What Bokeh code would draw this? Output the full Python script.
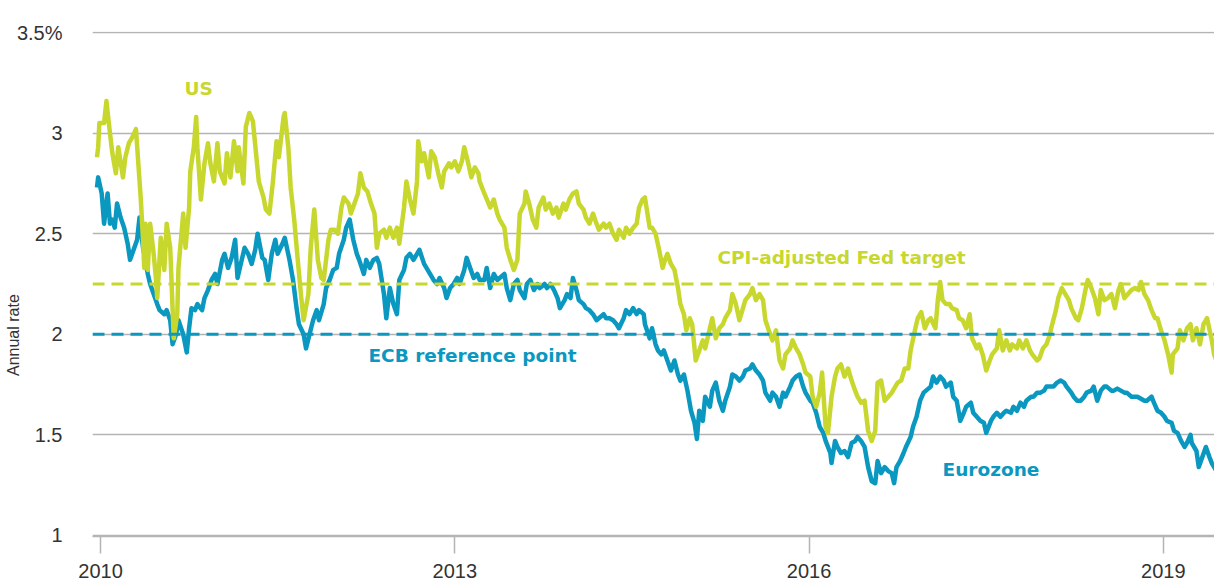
import math
from bokeh.plotting import figure
from bokeh.models import Range1d, FixedTicker, Span, Label, ColumnDataSource
from bokeh.embed import file_html
from bokeh.resources import INLINE

# ---------------- data ----------------
us_years = [
    2009.97, 2009.98, 2009.99, 2010.03, 2010.05, 2010.07, 2010.10, 2010.13, 2010.15, 2010.19,
    2010.21, 2010.24, 2010.27, 2010.30, 2010.32, 2010.34, 2010.36, 2010.37, 2010.38, 2010.40,
    2010.42, 2010.45, 2010.47, 2010.48, 2010.51, 2010.54, 2010.56, 2010.59, 2010.61, 2010.62,
    2010.65, 2010.66, 2010.70, 2010.72, 2010.75, 2010.76, 2010.79, 2010.81, 2010.82, 2010.85,
    2010.88, 2010.91, 2010.93, 2010.96, 2010.99, 2011.01, 2011.05, 2011.07, 2011.10, 2011.13,
    2011.16, 2011.17, 2011.21, 2011.23, 2011.26, 2011.29, 2011.32, 2011.34, 2011.38, 2011.40,
    2011.43, 2011.46, 2011.49, 2011.51, 2011.55, 2011.56, 2011.59, 2011.61, 2011.64, 2011.67,
    2011.70, 2011.72, 2011.76, 2011.78, 2011.81, 2011.84, 2011.87, 2011.89, 2011.93, 2011.95,
    2011.98, 2012.01, 2012.04, 2012.06, 2012.10, 2012.12, 2012.15, 2012.18, 2012.20, 2012.23,
    2012.26, 2012.29, 2012.32, 2012.34, 2012.36, 2012.40, 2012.42, 2012.45, 2012.48, 2012.51,
    2012.53, 2012.57, 2012.59, 2012.62, 2012.65, 2012.68, 2012.69, 2012.72, 2012.74, 2012.78,
    2012.80, 2012.83, 2012.86, 2012.89, 2012.91, 2012.95, 2012.97, 2013.00, 2013.03, 2013.06,
    2013.08, 2013.11, 2013.14, 2013.17, 2013.20, 2013.21, 2013.25, 2013.30, 2013.33, 2013.36,
    2013.38, 2013.42, 2013.44, 2013.47, 2013.50, 2013.53, 2013.55, 2013.59, 2013.60, 2013.63,
    2013.66, 2013.69, 2013.71, 2013.75, 2013.77, 2013.80, 2013.83, 2013.86, 2013.88, 2013.92,
    2013.94, 2013.97, 2014.00, 2014.03, 2014.05, 2014.09, 2014.11, 2014.14, 2014.17, 2014.20,
    2014.22, 2014.26, 2014.28, 2014.31, 2014.34, 2014.37, 2014.39, 2014.43, 2014.45, 2014.48,
    2014.51, 2014.54, 2014.56, 2014.59, 2014.61, 2014.65, 2014.67, 2014.70, 2014.73, 2014.76,
    2014.78, 2014.80, 2014.83, 2014.86, 2014.89, 2014.91, 2014.94, 2014.96, 2014.99, 2015.01,
    2015.04, 2015.07, 2015.10, 2015.12, 2015.16, 2015.18, 2015.21, 2015.24, 2015.27, 2015.29,
    2015.33, 2015.35, 2015.38, 2015.41, 2015.44, 2015.46, 2015.50, 2015.52, 2015.55, 2015.58,
    2015.61, 2015.63, 2015.67, 2015.69, 2015.72, 2015.75, 2015.78, 2015.80, 2015.84, 2015.86,
    2015.89, 2015.92, 2015.95, 2015.97, 2016.01, 2016.03, 2016.06, 2016.09, 2016.11, 2016.14,
    2016.16, 2016.19, 2016.22, 2016.24, 2016.27, 2016.30, 2016.33, 2016.36, 2016.39, 2016.41,
    2016.44, 2016.47, 2016.50, 2016.53, 2016.56, 2016.58, 2016.61, 2016.64, 2016.67, 2016.70,
    2016.73, 2016.75, 2016.78, 2016.81, 2016.84, 2016.86, 2016.90, 2016.92, 2016.95, 2016.98,
    2017.01, 2017.03, 2017.07, 2017.09, 2017.11, 2017.13, 2017.16, 2017.19, 2017.21, 2017.25,
    2017.27, 2017.30, 2017.33, 2017.36, 2017.38, 2017.42, 2017.44, 2017.47, 2017.50, 2017.53,
    2017.55, 2017.59, 2017.61, 2017.64, 2017.67, 2017.70, 2017.72, 2017.76, 2017.78, 2017.81,
    2017.84, 2017.87, 2017.89, 2017.93, 2017.95, 2017.98, 2018.01, 2018.04, 2018.05, 2018.09,
    2018.11, 2018.14, 2018.17, 2018.20, 2018.22, 2018.26, 2018.28, 2018.31, 2018.34, 2018.36,
    2018.39, 2018.42, 2018.45, 2018.47, 2018.50, 2018.53, 2018.56, 2018.59, 2018.62, 2018.64,
    2018.67, 2018.70, 2018.73, 2018.76, 2018.79, 2018.81, 2018.84, 2018.87, 2018.90, 2018.93,
    2018.95, 2018.98, 2019.01, 2019.04, 2019.07, 2019.08, 2019.12, 2019.14, 2019.17, 2019.20,
    2019.23, 2019.25, 2019.28, 2019.31, 2019.34, 2019.37, 2019.41, 2019.43, 2019.46,
]
us_rates = [
    2.88, 2.93, 3.05, 3.05, 3.16, 3.05, 2.90, 2.80, 2.93, 2.78,
    2.88, 2.95, 2.98, 3.02, 2.85, 2.68, 2.47, 2.33, 2.55, 2.32,
    2.55, 2.40, 2.27, 2.18, 2.48, 2.32, 2.55, 2.43, 2.13, 1.98,
    2.10, 2.33, 2.60, 2.43, 2.63, 2.81, 2.93, 3.08, 2.93, 2.67,
    2.85, 2.95, 2.85, 2.76, 2.95, 2.81, 2.75, 2.90, 2.78, 2.96,
    2.81, 2.93, 2.75, 3.03, 3.10, 3.06, 2.88, 2.76, 2.68, 2.62,
    2.60, 2.76, 2.96, 2.88, 3.08, 3.10, 2.93, 2.73, 2.57, 2.37,
    2.18, 2.07, 2.20, 2.43, 2.62, 2.37, 2.28, 2.27, 2.47, 2.52,
    2.52, 2.50, 2.63, 2.68, 2.65, 2.60, 2.65, 2.70, 2.80, 2.73,
    2.71, 2.65, 2.60, 2.43, 2.50, 2.52, 2.48, 2.53, 2.48, 2.53,
    2.45, 2.63, 2.76, 2.67, 2.60, 2.76, 2.96, 2.86, 2.90, 2.78,
    2.91, 2.88, 2.80, 2.73, 2.81, 2.85, 2.83, 2.86, 2.81, 2.86,
    2.93, 2.86, 2.78, 2.83, 2.80, 2.76, 2.70, 2.63, 2.67, 2.60,
    2.57, 2.53, 2.43, 2.37, 2.32, 2.37, 2.60, 2.65, 2.71, 2.65,
    2.57, 2.53, 2.63, 2.68, 2.62, 2.65, 2.60, 2.63, 2.58, 2.65,
    2.62, 2.67, 2.70, 2.71, 2.65, 2.62, 2.58, 2.55, 2.60, 2.55,
    2.52, 2.55, 2.53, 2.55, 2.50, 2.47, 2.52, 2.48, 2.53, 2.50,
    2.53, 2.55, 2.63, 2.67, 2.68, 2.53, 2.53, 2.50, 2.42, 2.33,
    2.37, 2.40, 2.35, 2.32, 2.23, 2.15, 2.10, 2.02, 2.08, 2.05,
    1.87, 1.92, 1.97, 1.93, 2.03, 2.08, 1.98, 2.03, 2.05, 2.08,
    2.12, 2.20, 2.15, 2.07, 2.13, 2.17, 2.20, 2.23, 2.17, 2.20,
    2.17, 2.07, 2.00, 1.97, 2.02, 1.87, 1.83, 1.90, 1.93, 1.97,
    1.93, 1.90, 1.85, 1.81, 1.79, 1.69, 1.64, 1.71, 1.81, 1.54,
    1.51, 1.69, 1.79, 1.83, 1.85, 1.79, 1.83, 1.77, 1.72, 1.69,
    1.66, 1.67, 1.52, 1.47, 1.52, 1.76, 1.77, 1.67, 1.69, 1.71,
    1.74, 1.76, 1.77, 1.83, 1.83, 1.92, 2.03, 2.08, 2.11, 2.03,
    2.07, 2.08, 2.03, 2.17, 2.26, 2.17, 2.15, 2.15, 2.13, 2.12,
    2.08, 2.07, 2.03, 2.10, 1.98, 1.93, 1.95, 1.90, 1.82, 1.87,
    1.90, 1.93, 2.02, 1.92, 1.97, 1.92, 1.95, 1.93, 1.97, 1.93,
    1.97, 1.92, 1.90, 1.87, 1.88, 1.93, 1.95, 2.00, 2.03, 2.12,
    2.18, 2.23, 2.20, 2.17, 2.13, 2.08, 2.07, 2.13, 2.22, 2.27,
    2.23, 2.18, 2.10, 2.22, 2.17, 2.18, 2.20, 2.13, 2.22, 2.25,
    2.18, 2.20, 2.22, 2.23, 2.22, 2.26, 2.20, 2.17, 2.12, 2.08,
    2.08, 2.02, 1.97, 1.90, 1.81, 1.90, 1.93, 2.02, 1.97, 2.03,
    2.05, 1.97, 2.03, 1.95, 2.05, 2.08, 1.97, 1.90, 1.85,
]

ez_years = [
    2009.97, 2009.98, 2010.01, 2010.03, 2010.06, 2010.08, 2010.10, 2010.12, 2010.14, 2010.17,
    2010.20, 2010.23, 2010.25, 2010.28, 2010.31, 2010.33, 2010.36, 2010.38, 2010.40, 2010.42,
    2010.45, 2010.48, 2010.50, 2010.54, 2010.56, 2010.59, 2010.61, 2010.64, 2010.66, 2010.70,
    2010.73, 2010.75, 2010.77, 2010.80, 2010.82, 2010.86, 2010.88, 2010.91, 2010.94, 2010.97,
    2010.99, 2011.03, 2011.05, 2011.08, 2011.11, 2011.14, 2011.16, 2011.20, 2011.22, 2011.25,
    2011.28, 2011.31, 2011.33, 2011.37, 2011.39, 2011.42, 2011.45, 2011.48, 2011.50, 2011.54,
    2011.56, 2011.60, 2011.63, 2011.66, 2011.68, 2011.72, 2011.74, 2011.77, 2011.80, 2011.83,
    2011.85, 2011.89, 2011.91, 2011.94, 2011.97, 2012.00, 2012.02, 2012.06, 2012.08, 2012.11,
    2012.14, 2012.17, 2012.19, 2012.23, 2012.25, 2012.28, 2012.31, 2012.34, 2012.36, 2012.40,
    2012.42, 2012.45, 2012.48, 2012.51, 2012.53, 2012.57, 2012.59, 2012.62, 2012.65, 2012.68,
    2012.70, 2012.74, 2012.76, 2012.79, 2012.82, 2012.85, 2012.87, 2012.91, 2012.93, 2012.96,
    2012.99, 2013.02, 2013.04, 2013.08, 2013.10, 2013.13, 2013.16, 2013.19, 2013.21, 2013.25,
    2013.27, 2013.30, 2013.33, 2013.36, 2013.38, 2013.42, 2013.44, 2013.47, 2013.50, 2013.53,
    2013.55, 2013.59, 2013.61, 2013.64, 2013.67, 2013.70, 2013.72, 2013.76, 2013.78, 2013.81,
    2013.84, 2013.87, 2013.89, 2013.93, 2013.95, 2013.98, 2014.00, 2014.03, 2014.05, 2014.09,
    2014.11, 2014.14, 2014.17, 2014.20, 2014.22, 2014.26, 2014.28, 2014.31, 2014.34, 2014.37,
    2014.39, 2014.43, 2014.45, 2014.48, 2014.51, 2014.54, 2014.56, 2014.60, 2014.61, 2014.65,
    2014.67, 2014.70, 2014.72, 2014.75, 2014.77, 2014.80, 2014.83, 2014.86, 2014.89, 2014.91,
    2014.94, 2014.97, 2015.00, 2015.03, 2015.05, 2015.07, 2015.10, 2015.12, 2015.16, 2015.18,
    2015.21, 2015.24, 2015.27, 2015.29, 2015.33, 2015.35, 2015.38, 2015.41, 2015.44, 2015.46,
    2015.50, 2015.52, 2015.55, 2015.58, 2015.61, 2015.63, 2015.67, 2015.69, 2015.72, 2015.75,
    2015.78, 2015.80, 2015.84, 2015.86, 2015.89, 2015.92, 2015.95, 2015.97, 2016.01, 2016.03,
    2016.06, 2016.09, 2016.12, 2016.14, 2016.18, 2016.19, 2016.22, 2016.24, 2016.27, 2016.30,
    2016.33, 2016.36, 2016.39, 2016.41, 2016.44, 2016.47, 2016.50, 2016.53, 2016.56, 2016.58,
    2016.61, 2016.64, 2016.67, 2016.70, 2016.72, 2016.74, 2016.77, 2016.80, 2016.82, 2016.86,
    2016.88, 2016.91, 2016.94, 2016.97, 2016.99, 2017.03, 2017.05, 2017.08, 2017.11, 2017.14,
    2017.16, 2017.20, 2017.22, 2017.25, 2017.28, 2017.31, 2017.33, 2017.37, 2017.39, 2017.42,
    2017.45, 2017.48, 2017.50, 2017.54, 2017.56, 2017.59, 2017.62, 2017.65, 2017.67, 2017.71,
    2017.73, 2017.76, 2017.79, 2017.82, 2017.84, 2017.88, 2017.90, 2017.93, 2017.96, 2017.99,
    2018.01, 2018.05, 2018.07, 2018.10, 2018.13, 2018.16, 2018.18, 2018.22, 2018.24, 2018.27,
    2018.30, 2018.33, 2018.35, 2018.39, 2018.41, 2018.44, 2018.47, 2018.50, 2018.52, 2018.56,
    2018.58, 2018.61, 2018.64, 2018.67, 2018.69, 2018.73, 2018.75, 2018.78, 2018.81, 2018.84,
    2018.86, 2018.90, 2018.92, 2018.95, 2018.98, 2019.01, 2019.03, 2019.07, 2019.09, 2019.12,
    2019.15, 2019.18, 2019.20, 2019.23, 2019.24, 2019.28, 2019.30, 2019.33, 2019.36, 2019.39,
    2019.41, 2019.45,
]
ez_rates = [
    2.73, 2.78, 2.70, 2.55, 2.70, 2.55, 2.57, 2.53, 2.65, 2.58,
    2.53, 2.45, 2.37, 2.42, 2.47, 2.58, 2.43, 2.37, 2.30, 2.25,
    2.20, 2.15, 2.12, 2.10, 2.12, 2.07, 1.95, 2.00, 2.07, 2.00,
    1.91, 2.03, 2.13, 2.12, 2.15, 2.12, 2.18, 2.22, 2.27, 2.30,
    2.25, 2.37, 2.40, 2.33, 2.38, 2.47, 2.28, 2.38, 2.43, 2.40,
    2.35, 2.42, 2.50, 2.38, 2.37, 2.27, 2.40, 2.47, 2.40, 2.45,
    2.48, 2.37, 2.27, 2.13, 2.05, 2.00, 1.93, 2.00, 2.07, 2.12,
    2.07, 2.15, 2.23, 2.27, 2.32, 2.33, 2.40, 2.47, 2.53, 2.57,
    2.47, 2.40, 2.37, 2.30, 2.37, 2.33, 2.37, 2.38, 2.35, 2.20,
    2.08, 2.23, 2.15, 2.10, 2.27, 2.32, 2.38, 2.40, 2.37, 2.40,
    2.42, 2.35, 2.33, 2.30, 2.27, 2.25, 2.28, 2.23, 2.18, 2.23,
    2.25, 2.28, 2.25, 2.32, 2.38, 2.33, 2.28, 2.30, 2.27, 2.27,
    2.33, 2.23, 2.30, 2.27, 2.28, 2.30, 2.23, 2.17, 2.25, 2.27,
    2.22, 2.18, 2.25, 2.27, 2.22, 2.25, 2.23, 2.25, 2.23, 2.25,
    2.22, 2.18, 2.13, 2.17, 2.20, 2.18, 2.28, 2.22, 2.17, 2.15,
    2.13, 2.12, 2.10, 2.07, 2.08, 2.10, 2.08, 2.08, 2.07, 2.05,
    2.03, 2.08, 2.12, 2.10, 2.13, 2.10, 2.12, 2.10, 2.05, 1.98,
    2.03, 1.95, 1.92, 1.90, 1.92, 1.87, 1.82, 1.87, 1.80, 1.77,
    1.80, 1.72, 1.62, 1.56, 1.48, 1.62, 1.57, 1.69, 1.64, 1.72,
    1.76, 1.67, 1.62, 1.67, 1.74, 1.80, 1.79, 1.77, 1.79, 1.82,
    1.83, 1.85, 1.82, 1.80, 1.77, 1.71, 1.67, 1.71, 1.69, 1.64,
    1.71, 1.69, 1.74, 1.77, 1.79, 1.80, 1.74, 1.71, 1.67, 1.66,
    1.61, 1.54, 1.51, 1.47, 1.41, 1.36, 1.47, 1.44, 1.41, 1.42,
    1.39, 1.46, 1.47, 1.49, 1.47, 1.44, 1.34, 1.27, 1.26, 1.37,
    1.31, 1.34, 1.32, 1.31, 1.26, 1.34, 1.37, 1.41, 1.44, 1.49,
    1.54, 1.59, 1.67, 1.71, 1.72, 1.74, 1.79, 1.76, 1.79, 1.77,
    1.74, 1.76, 1.69, 1.67, 1.57, 1.61, 1.64, 1.66, 1.61, 1.59,
    1.57, 1.56, 1.51, 1.57, 1.59, 1.61, 1.59, 1.61, 1.62, 1.61,
    1.64, 1.62, 1.66, 1.64, 1.67, 1.69, 1.69, 1.71, 1.71, 1.72,
    1.74, 1.74, 1.74, 1.76, 1.77, 1.76, 1.74, 1.71, 1.69, 1.67,
    1.67, 1.69, 1.71, 1.72, 1.74, 1.67, 1.72, 1.74, 1.74, 1.72,
    1.72, 1.73, 1.72, 1.71, 1.71, 1.69, 1.69, 1.69, 1.68, 1.67,
    1.67, 1.69, 1.66, 1.62, 1.61, 1.59, 1.57, 1.56, 1.52, 1.51,
    1.47, 1.44, 1.46, 1.50, 1.46, 1.42, 1.34, 1.39, 1.44, 1.39,
    1.36, 1.32,
]

fed_target = 2.25      # CPI-adjusted Fed target
ecb_reference = 2.0    # ECB reference point

y_ticks = [1.0, 1.5, 2.0, 2.5, 3.0, 3.5]
y_tick_labels = ["1", "1.5", "2", "2.5", "3", "3.5%"]
x_ticks = [2010, 2013, 2016, 2019]
x_tick_labels = ["2010", "2013", "2016", "2019"]

# ---------------- styling ----------------
US_COLOR = "#c8d72e"
EZ_COLOR = "#0b98c0"
GRID = "#b4b4b4"
TEXT = "#333333"
TICK_FONT = "Liberation Sans"
LABEL_FONT = "DejaVu Sans"

p = figure(
    frame_width=1122, frame_height=505,
    x_range=Range1d(2009.932, 2019.433), y_range=Range1d(0.995, 3.505),
    output_backend="svg", toolbar_location=None,
    min_border_left=92, min_border_right=0, min_border_top=31, min_border_bottom=48,
    background_fill_color="white", border_fill_color="white",
)
p.outline_line_color = None

# y axis: labels only
p.yaxis.ticker = FixedTicker(ticks=y_ticks)
p.yaxis.major_label_overrides = dict(zip(y_ticks, y_tick_labels))
p.yaxis.axis_line_color = None
p.yaxis.major_tick_line_color = None
p.yaxis.minor_tick_line_color = None
p.yaxis.major_label_standoff = 24
p.yaxis.major_label_text_font = TICK_FONT
p.yaxis.major_label_text_font_size = "20px"
p.yaxis.major_label_text_color = TEXT
# axis title; trailing no-break spaces move the visible words down to sit beside "2"
p.yaxis.axis_label = "Annual rate" + "\u00a0" * 23
p.yaxis.axis_label_text_font = TICK_FONT
p.yaxis.axis_label_text_font_size = "16px"
p.yaxis.axis_label_text_font_style = "normal"
p.yaxis.axis_label_text_color = TEXT
p.yaxis.axis_label_standoff = -8

# x axis
p.xaxis.ticker = FixedTicker(ticks=x_ticks)
p.xaxis.major_label_overrides = dict(zip(x_ticks, x_tick_labels))
p.xaxis.axis_line_color = GRID
p.xaxis.axis_line_width = 1.5
p.xaxis.major_tick_line_color = GRID
p.xaxis.major_tick_line_width = 1.5
p.xaxis.major_tick_in = 0
p.xaxis.major_tick_out = 17
p.xaxis.minor_tick_line_color = None
p.xaxis.major_label_standoff = 10
p.xaxis.major_label_text_font = TICK_FONT
p.xaxis.major_label_text_font_size = "20px"
p.xaxis.major_label_text_color = TEXT

p.xgrid.grid_line_color = None
p.ygrid.ticker = FixedTicker(ticks=y_ticks)
p.ygrid.grid_line_color = GRID
p.ygrid.grid_line_width = 1.5

# series
ez_src = ColumnDataSource(dict(x=ez_years, y=ez_rates))
us_src = ColumnDataSource(dict(x=us_years, y=us_rates))
p.line("x", "y", source=ez_src, line_color=EZ_COLOR, line_width=4.5, line_join="round")
p.line("x", "y", source=us_src, line_color=US_COLOR, line_width=4.5, line_join="round")

# reference lines
p.add_layout(Span(location=fed_target, dimension="width", line_color=US_COLOR,
                  line_width=3, line_dash="12 7"))
p.add_layout(Span(location=ecb_reference, dimension="width", line_color=EZ_COLOR,
                  line_width=3, line_dash="12 7"))

# in-plot labels
def add_text(x, y, text, color):
    p.add_layout(Label(x=x, y=y, text=text, text_color=color, text_font=LABEL_FONT,
                       text_font_style="bold", text_font_size="18.5px",
                       text_align="left", text_baseline="middle"))

add_text(2010.711, 3.224, "US", US_COLOR)
add_text(2015.224, 2.384, "CPI-adjusted Fed target", US_COLOR)
add_text(2012.269, 1.897, "ECB reference point", EZ_COLOR)
add_text(2017.130, 1.326, "Eurozone", EZ_COLOR)

open("out.html", "w").write(file_html(p, INLINE))
